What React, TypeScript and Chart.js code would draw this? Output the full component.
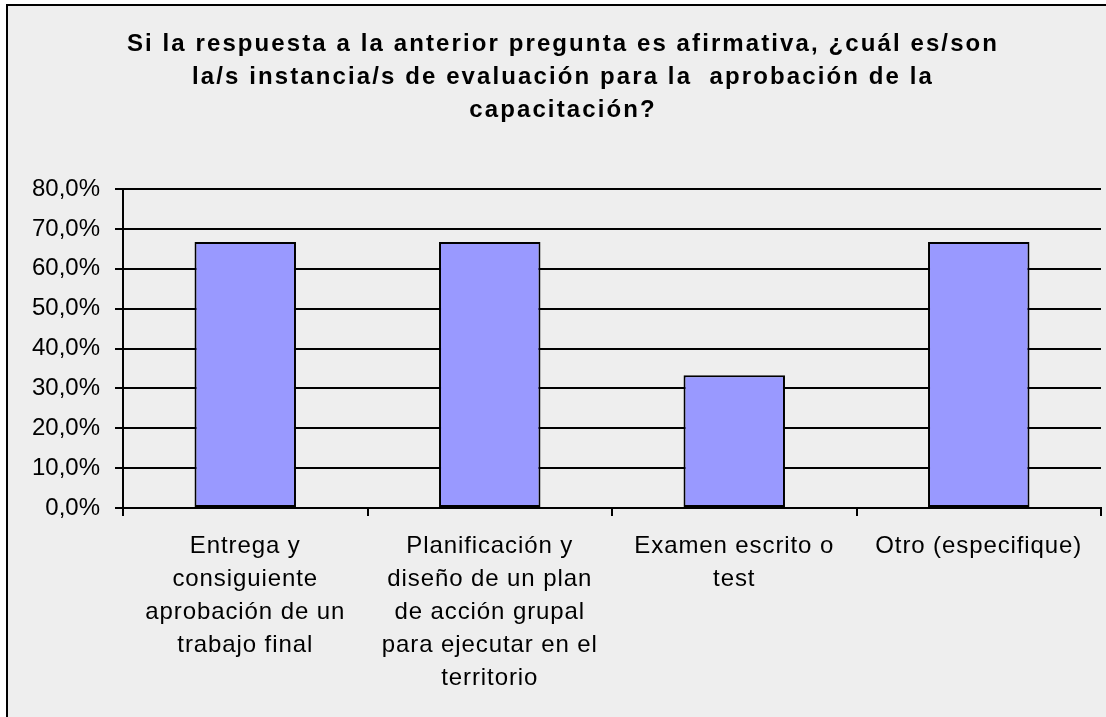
import React, { useEffect, useRef } from 'react';
import { Chart, registerables } from 'chart.js';

Chart.register(...registerables);

const titleLines: string[] = [
  'Si la respuesta a la anterior pregunta es afirmativa, ¿cuál es/son',
  'la/s instancia/s de evaluación para la  aprobación de la',
  'capacitación?',
];

const categories: string[][] = [
  ['Entrega y', 'consiguiente', 'aprobación de un', 'trabajo final'],
  ['Planificación y', 'diseño de un plan', 'de acción grupal', 'para ejecutar en el', 'territorio'],
  ['Examen escrito o', 'test'],
  ['Otro (especifique)'],
];

const values: number[] = [66.7, 66.7, 33.3, 66.7];

const yMin = 0;
const yMax = 80;
const yStep = 10;

export default function App() {
  const ref = useRef<HTMLCanvasElement>(null);

  useEffect(() => {
    const canvas = ref.current;
    if (!canvas) return;

    const framePlugin = {
      id: 'frameAndTitle',
      beforeDraw(chart: any) {
        const ctx = chart.ctx;
        ctx.save();
        ctx.fillStyle = '#ffffff';
        ctx.fillRect(0, 0, chart.width, chart.height);
        ctx.fillStyle = '#eeeeee';
        ctx.fillRect(6, 4, chart.width - 6, chart.height - 4);
        ctx.fillStyle = '#000000';
        ctx.fillRect(6, 4, chart.width - 6, 2);
        ctx.fillRect(6, 4, 2, chart.height - 4);
        ctx.restore();
        ctx.letterSpacing = '0.9px';
      },
      afterDatasetsDraw(chart: any) {
        chart.ctx.letterSpacing = '0px';
      },
      afterDraw(chart: any) {
        const ctx = chart.ctx;
        ctx.save();
        ctx.letterSpacing = '2.1px';
        ctx.font = 'bold 24px "Liberation Sans", Arial, sans-serif';
        ctx.fillStyle = '#000000';
        ctx.textAlign = 'center';
        ctx.textBaseline = 'alphabetic';
        titleLines.forEach((t, i) => {
          ctx.fillText(t, 563, 51 + i * 33);
        });
        ctx.restore();
      },
    };

    const chart = new Chart(canvas, {
      type: 'bar',
      data: {
        labels: categories,
        datasets: [
          {
            data: values,
            backgroundColor: '#9999FF',
            borderColor: '#000000',
            borderWidth: 2,
            borderSkipped: false,
            categoryPercentage: 1,
            barPercentage: 0.415,
          },
        ],
      },
      options: {
        animation: false,
        responsive: false,
        devicePixelRatio: 1,
        layout: { padding: { top: 189, right: 5, left: 0, bottom: 0 } },
        plugins: {
          legend: { display: false },
          tooltip: { enabled: false },
          title: { display: false },
        },
        scales: {
          x: {
            offset: true,
            grid: {
              display: true,
              drawOnChartArea: false,
              drawTicks: true,
              tickLength: 8,
              color: '#000000',
              lineWidth: 2,
              offset: true,
            },
            border: { display: true, color: '#000000', width: 2 },
            ticks: {
              color: '#000000',
              font: { family: '"Liberation Sans", Arial, sans-serif', size: 24, lineHeight: 1.375 },
              padding: 14,
              maxRotation: 0,
              minRotation: 0,
              autoSkip: false,
            },
            afterFit(scale: any) {
              scale.height = 209;
              scale.paddingLeft = 0;
              scale.paddingRight = 0;
            },
          },
          y: {
            min: yMin,
            max: yMax,
            grid: {
              color: '#000000',
              lineWidth: 2,
              tickLength: 8,
              drawTicks: true,
            },
            border: { display: true, color: '#000000', width: 2 },
            ticks: {
              stepSize: yStep,
              color: '#000000',
              padding: 15,
              z: 1,
              font: { family: '"Liberation Sans", Arial, sans-serif', size: 24 },
              callback: (v: any) => Number(v).toFixed(1).replace('.', ',') + '%',
            },
            afterFit(scale: any) {
              scale.width = 123;
              scale.paddingTop = 0;
              scale.paddingBottom = 0;
            },
          },
        },
      },
      plugins: [framePlugin],
    });

    return () => chart.destroy();
  }, []);

  return (
    <div style={{ position: 'absolute', left: 0, top: 0, width: 1106, height: 717 }}>
      <canvas ref={ref} width={1106} height={717} style={{ width: 1106, height: 717, display: 'block' }} />
    </div>
  );
}
